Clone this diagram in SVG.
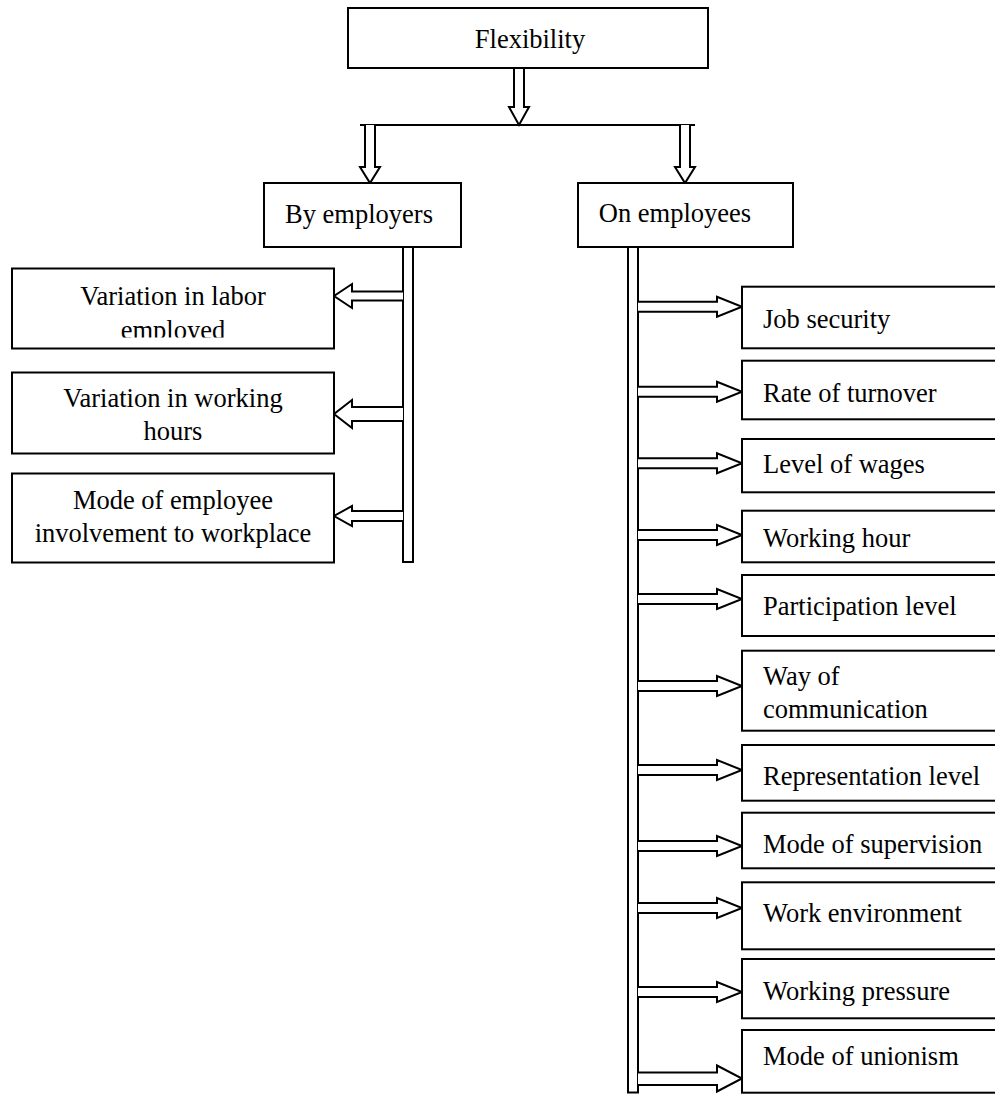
<svg xmlns="http://www.w3.org/2000/svg" width="995" height="1094" viewBox="0 0 995 1094">
<style>
.box{fill:#fff;stroke:#000;stroke-width:2}
.t{font-family:"Liberation Serif","Times New Roman",serif;font-size:26.5px;fill:#000}
.c{text-anchor:middle}
.ar{fill:#fff;stroke:#000;stroke-width:2;stroke-linejoin:miter}
.ln{fill:none;stroke:#000;stroke-width:2}
</style>
<defs>
<clipPath id="clip1"><rect x="0" y="260" width="340" height="77.5"/></clipPath>
</defs>
<rect x="0" y="0" width="995" height="1094" fill="#fff"/>
<g id="connectors">
  <path class="ar" d="M514,68 V107 H509 L519,125 L529,107 H524 V68"/>
  <line class="ln" x1="360" y1="125" x2="695" y2="125"/>
  <path class="ar" d="M365,125 V167 H360 L370,183 L380,167 H375 V125"/>
  <path class="ar" d="M680,125 V167 H675 L685,183 L695,167 H690 V125"/>
  <rect class="box" x="403" y="247" width="10" height="315"/>
  <rect class="box" x="628" y="247" width="10" height="845.5"/>
  <path class="ar" d="M403,291.5 H352 V284 L334,296 L352,308 V300.5 H403"/>
  <path class="ar" d="M403,407 H352 V400 L334,414 L352,428 V421 H403"/>
  <path class="ar" d="M403,511 H352 V506 L334,516 L352,526 V521 H403"/>
  <path class="ar" d="M638,301.7 H717 V296.7 L742,306.7 L717,316.7 V311.7 H638"/>
  <path class="ar" d="M638,386.7 H717 V381.7 L742,391.7 L717,401.7 V396.7 H638"/>
  <path class="ar" d="M638,458.3 H717 V453.3 L742,463.3 L717,473.3 V468.3 H638"/>
  <path class="ar" d="M638,530 H717 V525 L742,535 L717,545 V540 H638"/>
  <path class="ar" d="M638,594 H717 V589 L742,599 L717,609 V604 H638"/>
  <path class="ar" d="M638,681 H717 V676 L742,686 L717,696 V691 H638"/>
  <path class="ar" d="M638,765 H717 V760 L742,770 L717,780 V775 H638"/>
  <path class="ar" d="M638,841 H717 V836 L742,846 L717,856 V851 H638"/>
  <path class="ar" d="M638,903 H717 V898 L742,908 L717,918 V913 H638"/>
  <path class="ar" d="M638,987 H717 V982 L742,992 L717,1002 V997 H638"/>
  <path class="ar" d="M638,1072.5 H717 V1065.5 L742,1078.5 L717,1091.5 V1085 H638"/>
</g>
<g id="flexibility">
  <rect class="box" x="348" y="8" width="360" height="60"/>
  <text class="t c" x="530" y="48">Flexibility</text>
</g>
<g id="by-employers">
  <rect class="box" x="264" y="183" width="197" height="64"/>
  <text class="t c" x="359" y="223">By employers</text>
</g>
<g id="on-employees">
  <rect class="box" x="578" y="183" width="215" height="64"/>
  <text class="t c" x="675" y="222">On employees</text>
</g>
<g id="variation-labor">
  <rect class="box" x="12" y="268.5" width="322" height="80"/>
  <text class="t c" x="173" y="305">Variation in labor</text>
  <text class="t c" x="173" y="338.5" clip-path="url(#clip1)">employed</text>
</g>
<g id="variation-hours">
  <rect class="box" x="12" y="372.5" width="322" height="81"/>
  <text class="t c" x="173" y="407">Variation in working</text>
  <text class="t c" x="173" y="440">hours</text>
</g>
<g id="mode-involvement">
  <rect class="box" x="12" y="473.5" width="322" height="89"/>
  <text class="t c" x="173" y="509">Mode of employee</text>
  <text class="t c" x="173" y="542">involvement to workplace</text>
</g>
<g id="job-security">
  <rect class="box" x="742" y="286.7" width="260" height="61.6"/>
  <text class="t" x="763" y="328">Job security</text>
</g>
<g id="rate-turnover">
  <rect class="box" x="742" y="360.7" width="260" height="58.6"/>
  <text class="t" x="763" y="401.5">Rate of turnover</text>
</g>
<g id="level-wages">
  <rect class="box" x="742" y="439" width="260" height="53.3"/>
  <text class="t" x="763" y="473">Level of wages</text>
</g>
<g id="working-hour">
  <rect class="box" x="742" y="510.7" width="260" height="51.6"/>
  <text class="t" x="763" y="546.5">Working hour</text>
</g>
<g id="participation-level">
  <rect class="box" x="742" y="575" width="260" height="61"/>
  <text class="t" x="763" y="615">Participation level</text>
</g>
<g id="way-communication">
  <rect class="box" x="742" y="650.7" width="260" height="80"/>
  <text class="t" x="763" y="685">Way of</text>
  <text class="t" x="763" y="718">communication</text>
</g>
<g id="representation-level">
  <rect class="box" x="742" y="745" width="260" height="55.7"/>
  <text class="t" x="763" y="785">Representation level</text>
</g>
<g id="mode-supervision">
  <rect class="box" x="742" y="812.7" width="260" height="55.6"/>
  <text class="t" x="763" y="853">Mode of supervision</text>
</g>
<g id="work-environment">
  <rect class="box" x="742" y="882.3" width="260" height="67"/>
  <text class="t" x="763" y="921.5">Work environment</text>
</g>
<g id="working-pressure">
  <rect class="box" x="742" y="959" width="260" height="59.3"/>
  <text class="t" x="763" y="1000">Working pressure</text>
</g>
<g id="mode-unionism">
  <rect class="box" x="742" y="1030" width="260" height="62.7"/>
  <text class="t" x="763" y="1065">Mode of unionism</text>
</g>
</svg>
